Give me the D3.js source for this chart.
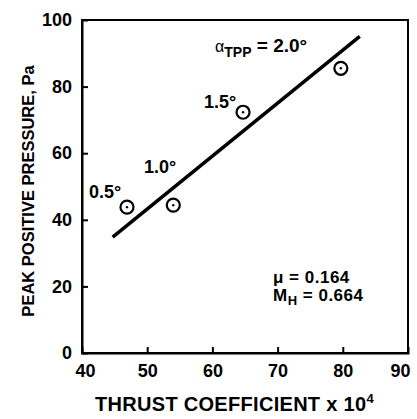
<!DOCTYPE html>
<html><head><meta charset="utf-8">
<script src="https://cdn.jsdelivr.net/npm/d3@7"></script>
<style>
body{margin:0;background:#fff;}
text{font-family:"Liberation Sans",Arial,sans-serif;font-weight:bold;fill:#000;}
</style></head>
<body><svg id="c" width="417" height="419"></svg>
<script>
const thrust = [46.9, 54.0, 64.7, 79.7];
const pressure = [43.8, 44.4, 72.3, 85.5];
const angleLabels = ["0.5°", "1.0°", "1.5°", "2.0°"];
const fitX = [44.7, 82.6];
const fitY = [34.8, 95.1];
const xTicks = [40, 50, 60, 70, 80, 90];
const yTicks = [0, 20, 40, 60, 80, 100];

const svg = d3.select("#c");
const m = {l:82, r:9, t:20, b:66};
const W = 417, H = 419;
const x = d3.scaleLinear().domain([40, 90]).range([m.l, W - m.r]);
const y = d3.scaleLinear().domain([0, 100]).range([H - m.b, m.t]);

// frame
svg.append("rect").attr("x", x(40)).attr("y", y(100)).attr("width", x(90)-x(40)).attr("height", y(0)-y(100))
  .attr("fill","none").attr("stroke","#000").attr("stroke-width",2);

const xa = svg.append("g").attr("transform",`translate(0,${y(0)})`)
  .call(d3.axisBottom(x).tickValues(xTicks).tickSize(-6).tickPadding(11).tickFormat(d3.format("d")));
const ya = svg.append("g").attr("transform",`translate(${x(40)},0)`)
  .call(d3.axisLeft(y).tickValues(yTicks).tickSize(-6).tickPadding(10).tickFormat(d3.format("d")));
[xa, ya].forEach(a => {
  a.select(".domain").attr("stroke","#000").attr("stroke-width",2);
  a.selectAll(".tick line").attr("stroke","#000").attr("stroke-width",2);
  a.selectAll(".tick text").style("font-size","18px").attr("fill","#000");
});
xa.selectAll(".tick line").filter(d => d===40 || d===90).remove();
ya.selectAll(".tick line").filter(d => d===0 || d===100).remove();
xa.selectAll(".tick text").filter(d => d===90).attr("text-anchor","end").attr("dx",2);
xa.selectAll(".tick text").filter(d => d===40).attr("dx",3);

// fit line
svg.append("line").attr("x1", x(fitX[0])).attr("y1", y(fitY[0])).attr("x2", x(fitX[1])).attr("y2", y(fitY[1]))
  .attr("stroke","#000").attr("stroke-width",3.5);

// points
const pts = svg.append("g").selectAll("g").data(thrust).join("g")
  .attr("transform",(d,i)=>`translate(${x(d)},${y(pressure[i])})`);
pts.append("circle").attr("r",6.5).attr("fill","#fff").attr("stroke","#000").attr("stroke-width",2.2);
pts.append("circle").attr("r",1.2).attr("fill","#000");

// angle labels
const lab = [[89,198],[144,173],[204,108]];
lab.forEach((p,i)=>{
  svg.append("text").attr("x",p[0]).attr("y",p[1]).style("font-size","18px").text(angleLabels[i]);
});
const a2 = svg.append("text").attr("x",215).attr("y",52).style("font-size","19px");
a2.append("tspan").text("α").style("font-weight","normal").style("font-size","16px");
a2.append("tspan").attr("dy",5).style("font-size","14px").text("TPP");
a2.append("tspan").attr("dy",-5).text(" = " + angleLabels[3]);

// params
svg.append("text").attr("x",273).attr("y",283).style("font-size","17px").style("letter-spacing","0.5px").text("μ = 0.164");
const mh = svg.append("text").attr("x",273).attr("y",301).style("font-size","17px").style("letter-spacing","0.5px");
mh.append("tspan").text("M");
mh.append("tspan").attr("dy",4).style("font-size","13px").text("H");
mh.append("tspan").attr("dy",-4).text(" = 0.664");

// axis titles
const xt = svg.append("text").attr("x",95).attr("y",411).style("font-size","20px").style("letter-spacing","0.3px");
xt.append("tspan").text("THRUST COEFFICIENT x 10");
xt.append("tspan").attr("dy",-8).style("font-size","13px").text("4");

svg.append("text").attr("transform","translate(34,191) rotate(-90)").attr("text-anchor","middle")
  .style("font-size","16.5px").text("PEAK POSITIVE PRESSURE, Pa");
</script></body></html>
